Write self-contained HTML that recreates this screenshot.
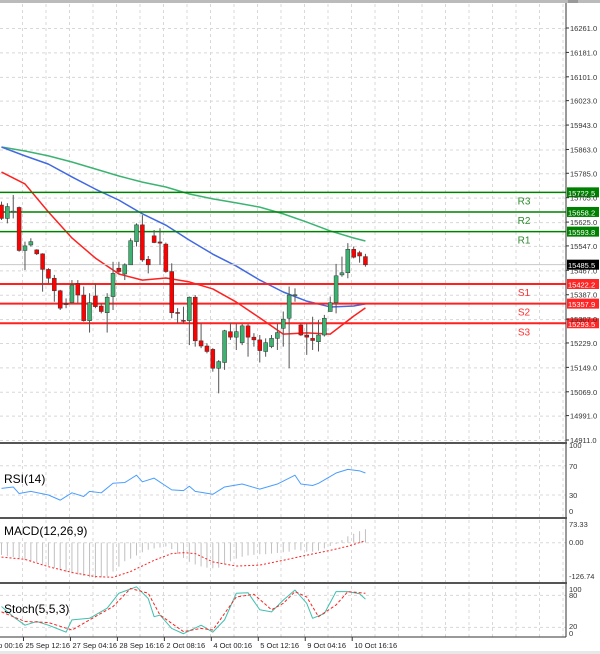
<!DOCTYPE html>
<html><head><meta charset="utf-8"><style>
html,body{margin:0;padding:0;background:#fff;width:600px;height:654px;overflow:hidden;font-family:"Liberation Sans",sans-serif}
svg text{font-family:"Liberation Sans",sans-serif}
</style></head><body>
<svg id="c" width="600" height="654" xmlns="http://www.w3.org/2000/svg"></svg>
<script>
const opens=[15681,15637,15659,15673,15532,15550,15534,15521,15470,15441,15400,15358,15361,15424,15386,15302,15383,15350,15328,15381,15474,15455,15485,15561,15616,15503,15580,15560,15553,15463,15329,15303,15302,15379,15236,15219,15208,15146,15165,15266,15248,15230,15285,15248,15239,15201,15217,15244,15277,15310,15386,15288,15255,15244,15233,15255,15332,15361,15452,15459,15536,15525,15512];
const highs=[15692,15687,15714,15676,15561,15572,15536,15523,15474,15452,15403,15375,15435,15435,15414,15392,15424,15359,15392,15495,15495,15490,15572,15621,15648,15514,15599,15605,15558,15490,15343,15348,15381,15386,15293,15228,15212,15173,15272,15296,15293,15291,15291,15261,15255,15244,15255,15293,15332,15414,15408,15293,15293,15315,15304,15321,15381,15488,15512,15556,15545,15531,15521];
const lows=[15632,15621,15637,15528,15468,15545,15517,15397,15424,15364,15337,15343,15359,15359,15299,15263,15343,15326,15263,15337,15457,15435,15485,15545,15495,15457,15556,15485,15459,15310,15293,15293,15222,15217,15212,15195,15135,15064,15141,15239,15206,15222,15184,15217,15165,15184,15212,15206,15217,15146,15364,15252,15190,15206,15201,15250,15332,15326,15446,15441,15506,15492,15479];
const closes=[15637,15676,15661,15532,15547,15561,15521,15470,15441,15400,15343,15357,15419,15386,15302,15361,15348,15332,15379,15457,15463,15485,15564,15616,15501,15485,15558,15556,15463,15328,15328,15302,15379,15236,15219,15201,15146,15168,15269,15248,15266,15285,15248,15239,15204,15230,15244,15263,15307,15386,15387,15255,15248,15237,15255,15310,15361,15449,15459,15536,15510,15514,15485];
const maIdx=[0,4,8,12,16,20,24,28,32,36,40,44,48,52,56,60,62];
const maSlow=[15871,15858,15842,15822,15799,15776,15756,15740,15717,15701,15688,15674,15652,15625,15596,15573,15563];
const maMid=[15871,15842,15815,15773,15733,15697,15652,15615,15566,15520,15481,15435,15396,15366,15347,15350,15357];
const maFast=[15789,15750,15658,15573,15507,15455,15435,15442,15429,15406,15363,15311,15258,15262,15258,15317,15344];
const levelNames=["R3","R2","R1","S1","S2","S3"];
const levelValues=[15722.5,15658.2,15593.8,15422.2,15357.9,15293.5];
const lastPrice=15485.5;
const priceTicks=[16261.0,16181.0,16101.0,16023.0,15943.0,15863.0,15785.0,15705.0,15625.0,15547.0,15467.0,15387.0,15307.0,15229.0,15149.0,15069.0,14991.0,14911.0];
const rsiIdx=[0,2,3,5,8,10,12,14,15,17,19,21,23,24,26,29,31,32,33,36,38,41,44,47,50,51,53,54,57,59,61,62];
const rsiVals=[39,41,32,35,30,23,33,28,35,33,46,47,57,48,53,37,36,42,35,31,41,45,38,45,57,45,43,46,60,65,63,60];
const macdHist=[-38,-42,-45,-50,-55,-58,-62,-66,-72,-78,-85,-92,-96,-100,-104,-108,-110,-108,-104,-90,-75,-58,-50,-40,-30,-22,-18,-15,-12,-20,-35,-48,-60,-68,-74,-78,-80,-78,-68,-58,-50,-44,-40,-38,-36,-36,-34,-32,-30,-28,-22,-24,-28,-28,-25,-18,-10,-4,8,20,28,36,42];
const sigIdx=[0,4,8,12,16,19,22,26,29,31,33,36,40,44,48,52,56,59,62];
const macdSignal=[-45,-52,-75,-93,-106,-108,-90,-55,-34,-31,-34,-60,-73,-70,-55,-39,-24,-11,6];
const stIdx=[0,2,4,6,8,11,12,15,18,20,23,25,26,27,29,31,34,36,38,40,42,44,46,48,50,52,53,55,57,59,61,62];
const stochK=[59,40,24,31,24,11,34,37,56,84,96,74,40,43,18,8,24,11,34,84,85,53,49,71,90,65,37,46,87,87,83,73];
const sdIdx=[0,4,8,12,15,19,22,25,27,31,34,36,40,43,46,48,50,52,54,57,59,62];
const stochD=[49,31,29,15,34,59,93,84,43,12,18,15,77,82,53,65,87,77,40,62,87,84];
const timeLabels=["24 Sep 00:16","25 Sep 12:16","27 Sep 04:16","28 Sep 16:16","2 Oct 08:16","4 Oct 00:16","5 Oct 12:16","9 Oct 04:16","10 Oct 16:16"];
const timeIdx=[-4,4,12,20,28,36,44,52,60];

const svg=document.getElementById('c');
const NS="http://www.w3.org/2000/svg";
function mk(t,a,p){const e=document.createElementNS(NS,t);for(const k in a)e.setAttribute(k,a[k]);(p||svg).appendChild(e);return e;}
const X=i=>i*5.87+1.5;
const Y=p=>28+(16261-p)*0.30519;
const yR=v=>517-v*0.733;
const yM=v=>542.7-v*0.32;
const yS=v=>638-v*0.533;
const AX=566;

let tb=mk('rect',{x:0,y:0,width:600,height:3,fill:'#bbb'});

let ic=mk('rect',{x:568,y:0,width:10,height:3,fill:'#999'});


const grid=mk('g',{stroke:'#d8d8d8','stroke-dasharray':'3,3','stroke-width':1});

for(let k=0;k<24;k++){const x=22.5+k*23.5;if(x<AX)mk('line',{x1:x,y1:4,x2:x,y2:637},grid);}
priceTicks.forEach(p=>mk('line',{x1:0,y1:Y(p)+.5,x2:AX,y2:Y(p)+.5},grid));
[70,30].forEach(v=>mk('line',{x1:0,y1:yR(v),x2:AX,y2:yR(v)},grid));
mk('line',{x1:0,y1:yM(0),x2:AX,y2:yM(0)},grid);
[80,20].forEach(v=>mk('line',{x1:0,y1:yS(v),x2:AX,y2:yS(v)},grid));

function poly(idx,vals,fy,col,w,dash,name){
  const pts=idx.map((i,k)=>X(i)+','+fy(vals[k])).join(' ');
  const e=mk('polyline',{points:pts,fill:'none',stroke:col,'stroke-width':w,'stroke-linejoin':'round'});
  if(dash)e.setAttribute('stroke-dasharray',dash);
  
  
}
poly(maIdx,maSlow,Y,'#3cb371',1.5,null,'ma-slow-line');
poly(maIdx,maMid,Y,'#4169e1',1.5,null,'ma-mid-line');
poly(maIdx,maFast,Y,'#ff2020',1.5,null,'ma-fast-line');

let cp=mk('line',{x1:0,y1:Y(lastPrice),x2:AX,y2:Y(lastPrice),stroke:'#c8c8c8','stroke-width':1});


levelValues.forEach((v,k)=>{
  const res=levelNames[k][0]==='R';
  const col=res?'#008000':'#ff2020';
  const g=mk('g',{});
  
  
  mk('line',{x1:0,y1:Y(v),x2:AX,y2:Y(v),stroke:col,'stroke-width':res?1.5:2},g);
  const t=mk('text',{x:524,y:Y(v)+12,'font-size':10,fill:res?'#2e8b2e':'#ff3030','text-anchor':'middle'},g);t.textContent=levelNames[k];
  mk('rect',{x:567,y:Y(v)-5,width:32,height:10,fill:res?'#008000':'#ff2525'},g);
  const lt=mk('text',{x:568,y:Y(v)+3.5,'font-size':7.5,fill:'#fff'},g);lt.textContent=v.toFixed(1);
});

const cg=mk('g',{});
opens.forEach((o,i)=>{
  const c=closes[i],x=X(i),up=c>=o;
  const g=mk('g',{},cg);
  
  
  mk('line',{x1:x,y1:Y(highs[i]),x2:x,y2:Y(lows[i]),stroke:'#555','stroke-width':1},g);
  const top=Y(Math.max(o,c)),bot=Y(Math.min(o,c));
  mk('rect',{x:x-2,y:top,width:4,height:Math.max(1,bot-top),fill:up?'#3cb371':'#ff0000',stroke:'#333','stroke-width':0.5},g);
});

const pa=mk('g',{});
mk('line',{x1:AX,y1:3,x2:AX,y2:637,stroke:'#333'},pa);
priceTicks.forEach(p=>{mk('line',{x1:AX,y1:Y(p),x2:AX+3,y2:Y(p),stroke:'#333'},pa);
  const t=mk('text',{x:570,y:Y(p)+3,'font-size':7.5,fill:'#333'},pa);t.textContent=p.toFixed(1);});
let lp=mk('rect',{x:567,y:Y(lastPrice)-5,width:32,height:10,fill:'#000'});

let lpt=mk('text',{x:568,y:Y(lastPrice)+3.5,'font-size':7.5,fill:'#fff'});lpt.textContent=lastPrice.toFixed(1);

[443,518,583].forEach(y=>{let s=mk('rect',{x:0,y:y-1,width:AX+1,height:2,fill:'#555'});});
mk('line',{x1:0,y1:637,x2:AX,y2:637,stroke:'#333'});

poly(rsiIdx,rsiVals,yR,'#4a9eff',1,null,'rsi-line');
let rl=mk('text',{x:4,y:483,'font-size':12,fill:'#000'});rl.textContent='RSI(14)';
[[100,448],[70,469],[30,498],[0,514]].forEach(([v,yy])=>{const t=mk('text',{x:569,y:yy,'font-size':7.5,fill:'#333'});t.textContent=v;});

const mg=mk('g',{stroke:'#c0c0c0','stroke-width':1});
macdHist.forEach((v,i)=>{const b=mk('line',{x1:X(i),y1:yM(0),x2:X(i),y2:yM(v)},mg);});
poly(sigIdx,macdSignal,yM,'#ff2020',1,'2,2','macd-signal-line');
let ml=mk('text',{x:4,y:535,'font-size':12,fill:'#000'});ml.textContent='MACD(12,26,9)';
[['73.33',527],['0.00',545],['-126.74',579]].forEach(([v,yy])=>{const t=mk('text',{x:569,y:yy,'font-size':7.5,fill:'#333'});t.textContent=v;});

poly(stIdx,stochK,yS,'#40c0b0',1,null,'stoch-main-line');
poly(sdIdx,stochD,yS,'#ff2020',1,'3,2','stoch-signal-line');
let sl=mk('text',{x:4,y:613,'font-size':12,fill:'#000'});sl.textContent='Stoch(5,5,3)';
[[100,592],[80,598],[20,629],[0,636]].forEach(([v,yy])=>{const t=mk('text',{x:569,y:yy,'font-size':7.5,fill:'#333'});t.textContent=v;});

const ta=mk('g',{});
timeLabels.forEach((s,k)=>{const x=X(timeIdx[k])-1.5;
  mk('line',{x1:x,y1:637,x2:x,y2:641,stroke:'#333'},ta);
  const t=mk('text',{x:x+2,y:648,'font-size':7.5,fill:'#222'},ta);t.textContent=s;});
let bb=mk('rect',{x:0,y:651,width:600,height:3,fill:'#e8e8e8'});
</script>
</body></html>
